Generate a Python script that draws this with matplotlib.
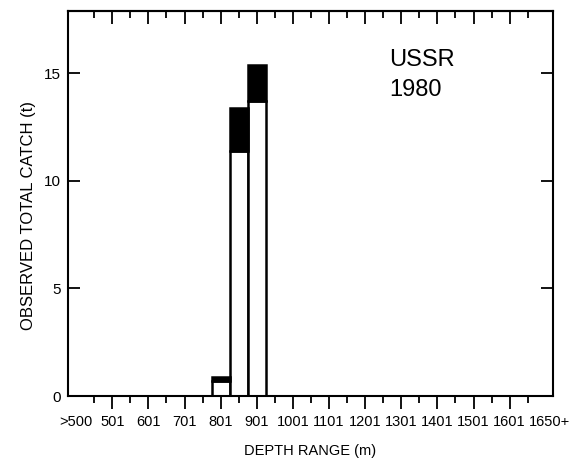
import matplotlib
matplotlib.use("Agg")
import matplotlib.pyplot as plt
from matplotlib.ticker import FixedLocator

plt.rcParams['font.family'] = ['Liberation Sans', 'DejaVu Sans']

# Depth bins are 50 m wide; bin index k sits on a tick
bin_index = [7, 8, 9]
catch_lower = [0.7, 11.4, 13.7]   # open part of each bar (t)
catch_upper = [0.2, 2.0, 1.7]     # solid part stacked on top (t)

label_pos = [-1, 1, 3, 5, 7, 9, 11, 13, 15, 17, 19, 21, 23, 25.2]
label_text = [">500", "501", "601", "701", "801", "901", "1001", "1101",
              "1201", "1301", "1401", "1501", "1601", "1650+"]
minor_pos = [0, 2, 4, 6, 8, 10, 12, 14, 16, 18, 20, 22, 24]
y_ticks = [0, 5, 10, 15]

fig = plt.figure(figsize=(5.75, 4.62), dpi=100)
ax = fig.add_axes([68 / 575, 1 - 396 / 462, (553 - 68) / 575, (396 - 11) / 462])

ax.bar(bin_index, catch_lower, width=1.0, color="white", edgecolor="black",
       linewidth=1.8, zorder=2)
ax.bar(bin_index, catch_upper, width=1.0, bottom=catch_lower, color="black",
       edgecolor="black", linewidth=1.8, zorder=2)

ax.set_xlim(-1.45, 25.4)
ax.set_ylim(0, 17.9)

for s in ax.spines.values():
    s.set_linewidth(1.5)

# x axis: long ticks under the labels, short ticks between
ax.xaxis.set_major_locator(FixedLocator(label_pos))
ax.set_xticklabels(label_text, fontsize=10.5)
ax.xaxis.set_minor_locator(FixedLocator(minor_pos))
ax.tick_params(axis="x", which="major", direction="out", length=9.5, width=1.3,
               pad=4, top=False)
ax.tick_params(axis="x", which="minor", direction="out", length=5, width=1.3,
               top=False)
for t in (ax.xaxis.get_major_ticks()[0], ax.xaxis.get_major_ticks()[-1]):
    t.tick1line.set_visible(False)

# inward ticks along the top edge
top = ax.secondary_xaxis("top")
top.xaxis.set_major_locator(FixedLocator(label_pos[1:-1]))
top.xaxis.set_minor_locator(FixedLocator(minor_pos))
top.tick_params(which="major", direction="in", length=9.5, width=1.3, labeltop=False)
top.tick_params(which="minor", direction="in", length=5, width=1.3)
top.spines["top"].set_linewidth(1.5)

ax.set_yticks(y_ticks)
ax.tick_params(axis="y", direction="in", length=8.5, width=1.3, labelsize=11,
               pad=5, right=True)

ax.set_xlabel("DEPTH RANGE (m)", fontsize=10.5)
ax.xaxis.set_label_coords(0.5, -0.125)
ax.set_ylabel("OBSERVED TOTAL CATCH (t)", fontsize=12)
ax.yaxis.set_label_coords(-0.066, 0.47)

fig.text(389 / 575, 1 - 49 / 462, "USSR\n1980", fontsize=17, va="top", ha="left",
         linespacing=1.45)

fig.savefig("out.png", dpi=100)
